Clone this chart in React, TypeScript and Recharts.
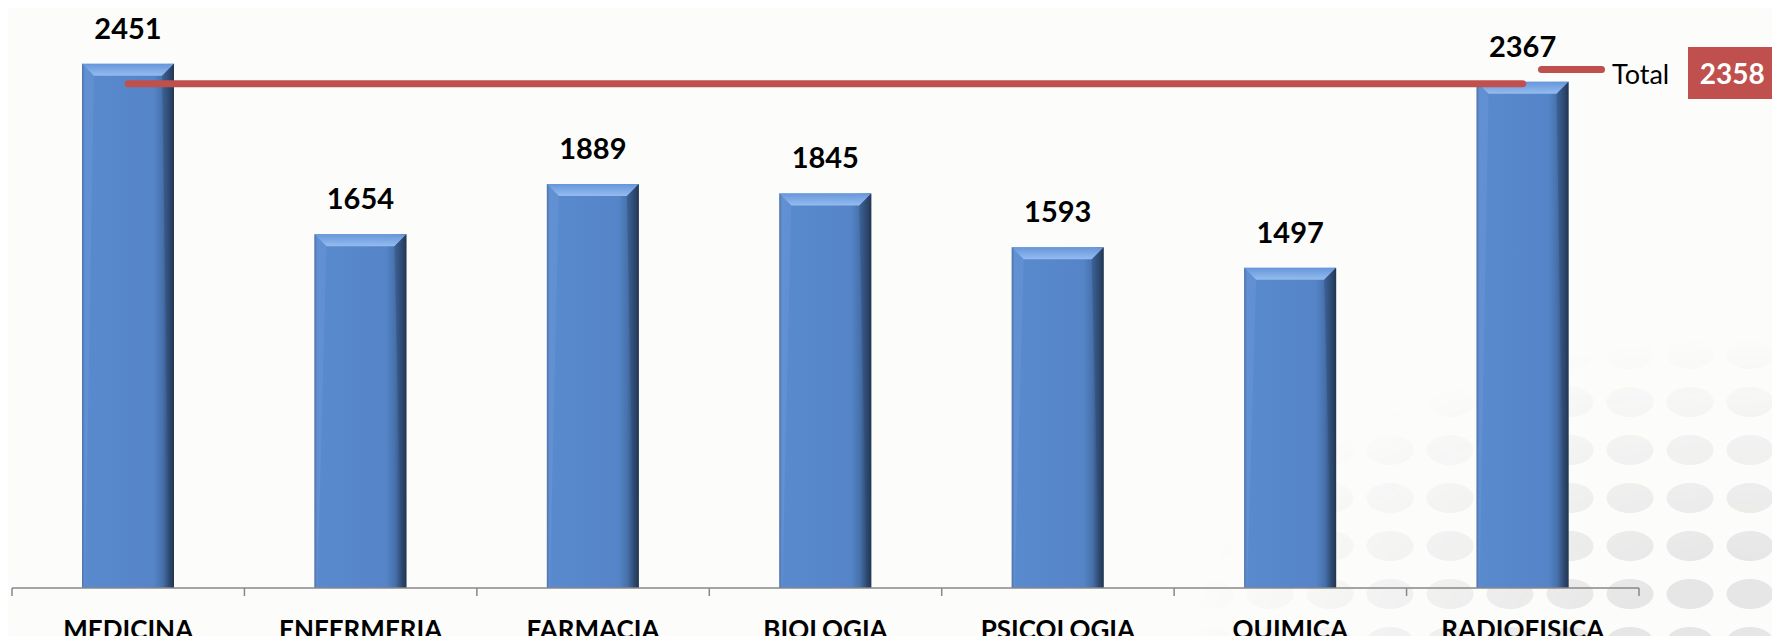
import { Bar, Line, XAxis, YAxis, LabelList, ComposedChart } from "recharts";

const categories = [
  "MEDICINA",
  "ENFERMERIA",
  "FARMACIA",
  "BIOLOGIA",
  "PSICOLOGIA",
  "QUIMICA",
  "RADIOFISICA",
];
const scores = [2451, 1654, 1889, 1845, 1593, 1497, 2367];
const totalLine = [2358, 2358, 2358, 2358, 2358, 2358, 2358];
const TOTAL = 2358;

const data = categories.map((name, i) => ({
  name,
  score: scores[i],
  total: totalLine[i],
}));

const FONT = "Lato, 'Open Sans', sans-serif";

function BevelBar(props: any) {
  const { x, y, width, height } = props;
  if (!height || height <= 0) return null;
  const b = 12;
  return (
    <g>
      <defs>
        <linearGradient id="barFace" x1="0" y1="0" x2="1" y2="0">
          <stop offset="0%" stopColor="#3a5c8c" />
          <stop offset="3%" stopColor="#5a8ace" />
          <stop offset="78%" stopColor="#5585c8" />
          <stop offset="88%" stopColor="#4670aa" />
          <stop offset="96%" stopColor="#2b4468" />
          <stop offset="100%" stopColor="#1b293d" />
        </linearGradient>
        <linearGradient id="barTop" x1="0" y1="0" x2="0" y2="1">
          <stop offset="0%" stopColor="#6696db" />
          <stop offset="100%" stopColor="#95bcef" />
        </linearGradient>
      </defs>
      <rect x={x} y={y} width={width} height={height} fill="url(#barFace)" />
      <polygon
        points={`${x},${y} ${x + width},${y} ${x + width - b},${y + b} ${x + b},${y + b}`}
        fill="url(#barTop)"
      />
      <polygon
        points={`${x + width},${y} ${x + width},${y + height} ${x + width - 4},${y + height} ${x + width - b},${y + b}`}
        fill="#2e4870"
        opacity={0.4}
      />
      <polygon
        points={`${x},${y} ${x + b},${y + b} ${x + 3},${y + height} ${x},${y + height}`}
        fill="#6f9cdc"
        opacity={0.35}
      />
    </g>
  );
}

// category label plus the tick marks on the band edges (Excel style)
function CategoryTick(props: any) {
  const { x, y, payload } = props;
  const half = payload.offset || 0;
  const last = payload.index === categories.length - 1;
  return (
    <g>
      <line x1={x - half} x2={x - half} y1={y} y2={y + 8} stroke="#888" strokeWidth={1.5} />
      {last && (
        <line x1={x + half} x2={x + half} y1={y} y2={y + 8} stroke="#888" strokeWidth={1.5} />
      )}
      <text
        x={x}
        y={y}
        dy={51}
        textAnchor="middle"
        fontFamily={FONT}
        fontWeight={700}
        fontSize={26}
        fill="#000"
      >
        {payload.value}
      </text>
    </g>
  );
}

export default function App() {
  return (
    <div
      style={{
        position: "relative",
        width: 1780,
        height: 644,
        margin: -8,
        background: "#fcfcfb",
        fontFamily: FONT,
        overflow: "hidden",
      }}
    >
      {/* faint dotted slide background, bottom right */}
      <div
        style={{
          position: "absolute",
          left: 1120,
          top: 330,
          width: 660,
          height: 314,
          backgroundImage:
            "radial-gradient(ellipse 40% 32% at 50% 50%, #e6e6e6 95%, rgba(230,230,230,0) 100%)",
          backgroundSize: "60px 48px",
          WebkitMaskImage:
            "radial-gradient(ellipse 100% 110% at 100% 100%, #000 25%, rgba(0,0,0,0.45) 60%, transparent 90%)",
          maskImage:
            "radial-gradient(ellipse 100% 110% at 100% 100%, #000 25%, rgba(0,0,0,0.45) 60%, transparent 90%)",
        }}
      />
      <div style={{ position: "absolute", left: 0, top: 0 }}>
        <ComposedChart
          width={1780}
          height={644}
          data={data}
          margin={{ top: 32, right: 141, left: 12, bottom: 0 }}
        >
          <XAxis
            dataKey="name"
            tick={<CategoryTick />}
            tickLine={false}
            tickSize={0}
            tickMargin={0}
            axisLine={{ stroke: "#888", strokeWidth: 1.5 }}
            height={56}
            interval={0}
          />
          <YAxis hide domain={[0, 2600]} />
          <Bar
            dataKey="score"
            barSize={92}
            shape={<BevelBar />}
            isAnimationActive={false}
          >
            <LabelList
              dataKey="score"
              position="top"
              offset={25}
              fontFamily={FONT}
              fontWeight={700}
              fontSize={29}
              fill="#000"
            />
          </Bar>
          <Line
            dataKey="total"
            stroke="#c0504d"
            strokeWidth={7}
            strokeLinecap="round"
            dot={false}
            activeDot={false}
            isAnimationActive={false}
          />
        </ComposedChart>
      </div>
      <div
        style={{
          position: "absolute",
          left: 1538,
          top: 47,
          height: 52,
          display: "flex",
          alignItems: "center",
        }}
      >
        <div
          style={{
            width: 67,
            height: 7,
            borderRadius: 4,
            background: "#c0504d",
            marginTop: -8,
          }}
        />
        <span style={{ fontSize: 27, marginLeft: 7, color: "#000" }}>Total</span>
        <div
          style={{
            marginLeft: 19,
            width: 88,
            height: 52,
            background: "#c0504d",
            color: "#fff",
            fontWeight: 700,
            fontSize: 28,
            display: "flex",
            alignItems: "center",
            justifyContent: "center",
          }}
        >
          {TOTAL}
        </div>
      </div>
    </div>
  );
}
